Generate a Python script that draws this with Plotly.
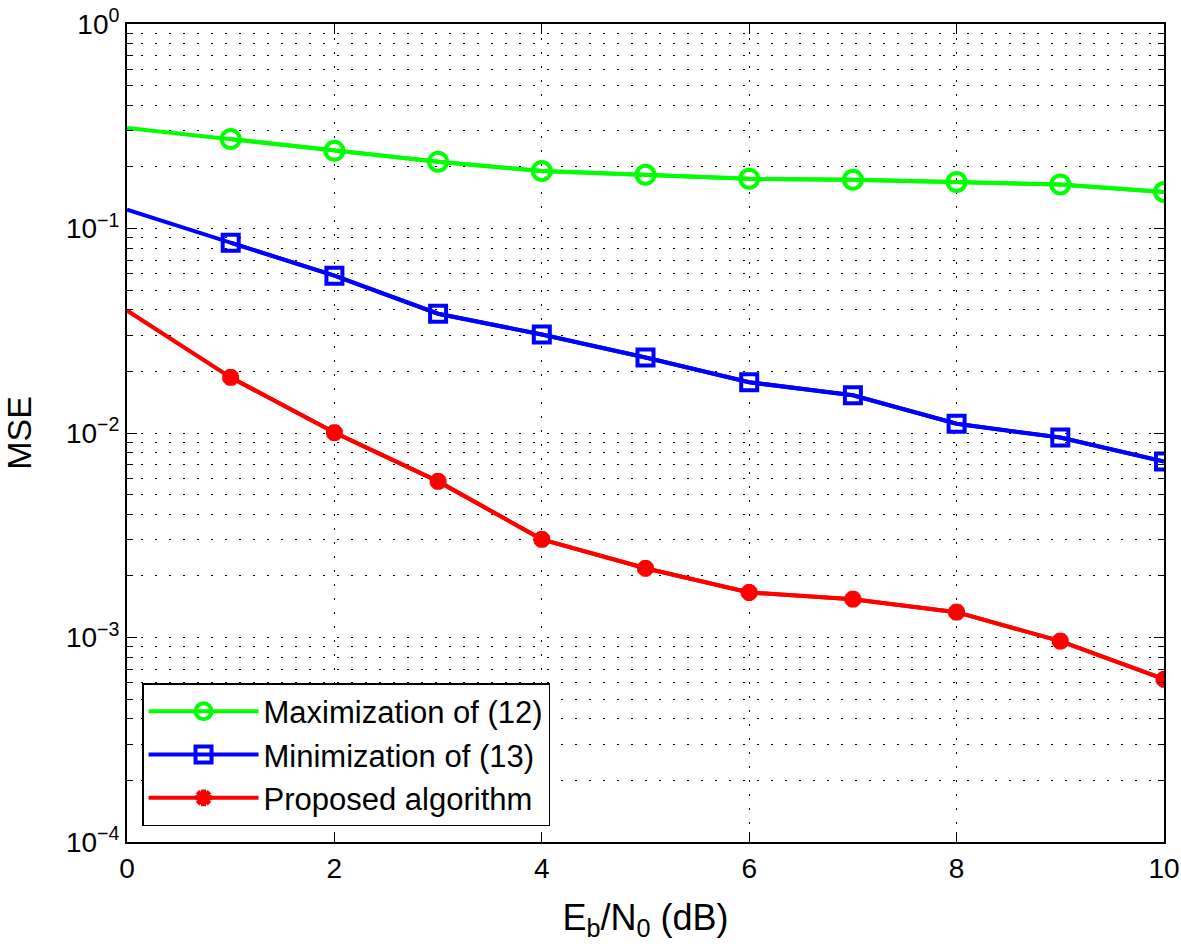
import plotly.graph_objects as go

ebn0 = [0, 1, 2, 3, 4, 5, 6, 7, 8, 9, 10]
mse_max12 = [0.310, 0.274, 0.240, 0.212, 0.191, 0.183, 0.175, 0.173, 0.169, 0.164, 0.151]
mse_min13 = [0.1235, 0.0852, 0.0588, 0.0383, 0.0303, 0.0234, 0.0177, 0.0153, 0.0111, 0.0095, 0.00726]
mse_prop = [0.0397, 0.0187, 0.01005, 0.0058, 0.00302, 0.00218, 0.00166, 0.00154, 0.00133, 0.00096, 0.000625]

names = ["Maximization of (12)", "Minimization of (13)", "Proposed algorithm"]
colors = ["#00ff00", "#0000ff", "#ff0000"]
symbols = ["circle-open", "square-open", "asterisk-open"]
sizes = [18, 16, 14]
marker_widths = [4, 4, 6]

y_tickvals = [1e-4, 1e-3, 1e-2, 1e-1, 1]
y_ticktext = ["10<sup>\u22124</sup>", "10<sup>\u22123</sup>", "10<sup>\u22122</sup>",
              "10<sup>\u22121</sup>", "10<sup>0</sup>"]
x_tickvals = [0, 2, 4, 6, 8, 10]

minor_vals = [k * 10.0 ** e for e in range(-4, 0) for k in range(2, 10)]

FONT = "Liberation Sans, Arial, Helvetica, sans-serif"

fig = go.Figure()
series = [mse_max12, mse_min13, mse_prop]
for ys, name, c, sym, sz, mw in zip(series, names, colors, symbols, sizes, marker_widths):
    # full line (including x=0 which has no marker)
    fig.add_trace(go.Scatter(x=ebn0, y=ys, mode="lines",
                             line=dict(color=c, width=4),
                             showlegend=False, hoverinfo="skip"))
    fig.add_trace(go.Scatter(x=ebn0[1:], y=ys[1:], mode="lines+markers", name=name,
                             line=dict(color=c, width=4),
                             marker=dict(symbol=sym, size=sz, color=c,
                                         line=dict(color=c, width=mw))))

grid_dash = "2px,12px"
fig.update_layout(
    width=1181, height=950,
    margin=dict(l=127, r=17, t=24, b=108, autoexpand=False),
    paper_bgcolor="white", plot_bgcolor="white",
    font=dict(family=FONT, color="black", size=27),
    showlegend=True,
    legend=dict(x=0.0145, y=0.0195, xanchor="left", yanchor="bottom",
                bgcolor="white", bordercolor="black", borderwidth=1.5,
                font=dict(size=31, family=FONT), itemwidth=110,
                tracegroupgap=0),
    xaxis=dict(range=[0, 10], tickvals=x_tickvals, ticks="inside", ticklen=10,
               tickwidth=1, tickcolor="black", automargin=False,
               showline=True, linecolor="black", linewidth=2, mirror="ticks",
               showgrid=True, gridcolor="black", gridwidth=1, griddash=grid_dash,
               zeroline=False, tickfont=dict(size=28),
               title=dict(text="E<sub>b</sub>/N<sub>0</sub> (dB)", font=dict(size=36),
                          standoff=22)),
    yaxis=dict(type="log", range=[-4, 0], tickvals=y_tickvals, ticktext=y_ticktext,
               ticks="inside", ticklen=10, tickwidth=1, tickcolor="black",
               automargin=False,
               showline=True, linecolor="black", linewidth=2, mirror="ticks",
               showgrid=True, gridcolor="black", gridwidth=1, griddash=grid_dash,
               zeroline=False, tickfont=dict(size=28),
               minor=dict(tickvals=minor_vals, ticks="inside", ticklen=6,
                          tickcolor="black", tickwidth=1, showgrid=True,
                          gridcolor="black", gridwidth=1, griddash=grid_dash),
               title=dict(text="MSE", font=dict(size=34), standoff=38)),
)

post = ("document.body.style.margin='0';"
        "document.documentElement.style.overflow='hidden';"
        "document.body.style.overflow='hidden';"
        "var d=document.getElementById('{plot_id}');"
        "d.style.position='fixed';d.style.top='0px';d.style.left='0px';")

fig.write_html("out.html", config={"displayModeBar": False}, post_script=post)
